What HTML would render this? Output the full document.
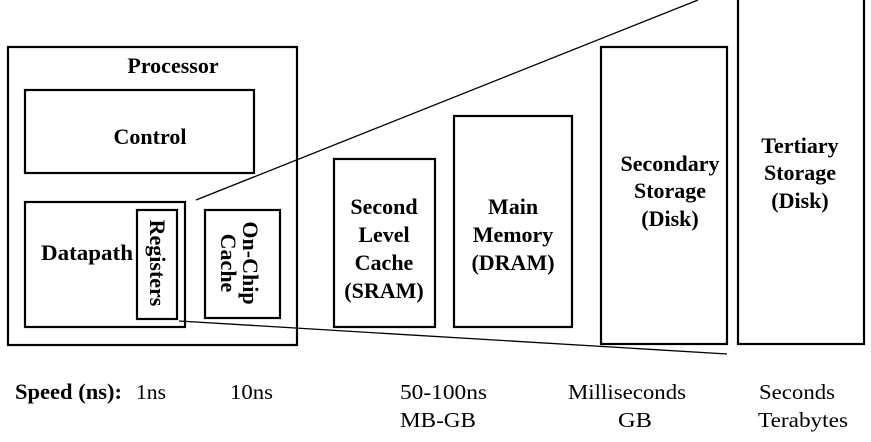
<!DOCTYPE html>
<html><head><meta charset="utf-8"><style>
html,body{margin:0;padding:0;background:#fff}
svg{display:block}
.b{font-family:"Liberation Serif",serif;font-weight:bold;font-size:22px;fill:#000}
.n{font-family:"Liberation Serif",serif;font-size:21px;fill:#000}
</style></head><body>
<svg width="871" height="442" viewBox="0 0 871 442" xmlns="http://www.w3.org/2000/svg">
<g fill="none" stroke="#000" stroke-width="2.2">
<rect x="8" y="47" width="289" height="298"/>
<rect x="25" y="90" width="229" height="83"/>
<rect x="25" y="202" width="160" height="125"/>
<rect x="137" y="210" width="40" height="109"/>
<rect x="205" y="210" width="75" height="108"/>
<rect x="334" y="159" width="101" height="168"/>
<rect x="454" y="116" width="118" height="211"/>
<rect x="601" y="47" width="126" height="297"/>
<rect x="738" y="-2" width="126" height="346"/>
</g>
<g stroke="#000" stroke-width="1.3">
<line x1="196" y1="200" x2="698" y2="0"/>
<line x1="179" y1="321" x2="727" y2="354"/>
</g>
<g class="b" text-anchor="middle">
<text x="173" y="73">Processor</text>
<text x="150" y="144">Control</text>
<text x="87" y="260" textLength="92" lengthAdjust="spacingAndGlyphs">Datapath</text>
<text x="384" y="214">Second</text>
<text x="384" y="242">Level</text>
<text x="384" y="270">Cache</text>
<text x="384" y="298">(SRAM)</text>
<text x="513" y="214">Main</text>
<text x="513" y="242">Memory</text>
<text x="513" y="270">(DRAM)</text>
<text x="670" y="171">Secondary</text>
<text x="670" y="198">Storage</text>
<text x="670" y="226">(Disk)</text>
<text x="800" y="153">Tertiary</text>
<text x="800" y="180">Storage</text>
<text x="800" y="208">(Disk)</text>
<text transform="translate(150,263) rotate(90)">Registers</text>
<text transform="translate(243,263) rotate(90)">On-Chip</text>
<text transform="translate(221,263) rotate(90)">Cache</text>
</g>
<text class="b" x="15" y="399" textLength="107" lengthAdjust="spacingAndGlyphs">Speed (ns):</text>
<g class="n">
<text x="136" y="399" textLength="30" lengthAdjust="spacingAndGlyphs">1ns</text>
<text x="230" y="399" textLength="43" lengthAdjust="spacingAndGlyphs">10ns</text>
<text x="400" y="399" textLength="87" lengthAdjust="spacingAndGlyphs">50-100ns</text>
<text x="400" y="427" textLength="76" lengthAdjust="spacingAndGlyphs">MB-GB</text>
<text x="568" y="399" textLength="118" lengthAdjust="spacingAndGlyphs">Milliseconds</text>
<text x="618" y="427" textLength="34" lengthAdjust="spacingAndGlyphs">GB</text>
<text x="759" y="399" textLength="76" lengthAdjust="spacingAndGlyphs">Seconds</text>
<text x="758" y="427" textLength="90" lengthAdjust="spacingAndGlyphs">Terabytes</text>
</g>
</svg>
</body></html>
